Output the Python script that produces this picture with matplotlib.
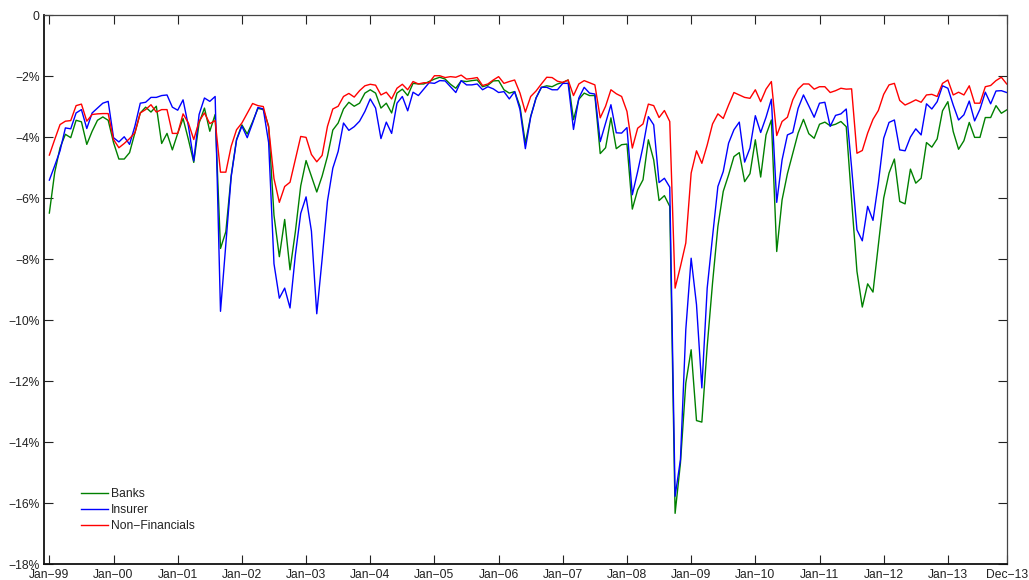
import matplotlib
matplotlib.use("Agg")
import matplotlib.pyplot as plt
import numpy as np

M = "\u2212"

banks = [
    -6.49, -5.16, -4.35, -3.91, -4.02, -3.45, -3.50, -4.24, -3.81, -3.45, -3.34, -3.45,
    -4.18, -4.72, -4.72, -4.51, -3.86, -3.21, -3.02, -3.18, -2.99, -4.21, -3.88, -4.42,
    -3.88, -3.39, -4.08, -4.83, -3.54, -3.05, -3.81, -3.26, -7.65, -7.10, -5.26, -4.08,
    -3.60, -3.90, -3.50, -3.06, -3.10, -3.64, -6.56, -7.92, -6.70, -8.35, -7.10, -5.60,
    -4.77, -5.28, -5.80, -5.28, -4.63, -3.77, -3.54, -3.08, -2.86, -2.99, -2.89, -2.56,
    -2.45, -2.56, -3.05, -2.89, -3.21, -2.56, -2.43, -2.64, -2.24, -2.26, -2.26, -2.18,
    -2.10, -2.04, -2.10, -2.27, -2.40, -2.16, -2.18, -2.15, -2.13, -2.35, -2.30, -2.16,
    -2.15, -2.45, -2.56, -2.51, -3.00, -4.20, -3.32, -2.72, -2.37, -2.32, -2.35, -2.26,
    -2.21, -2.13, -3.43, -2.76, -2.56, -2.64, -2.64, -4.54, -4.35, -3.37, -4.38, -4.25,
    -4.23, -6.36, -5.73, -5.40, -4.09, -4.75, -6.08, -5.92, -6.27, -16.33, -14.68, -12.06,
    -10.97, -13.29, -13.34, -10.86, -8.78, -6.93, -5.78, -5.24, -4.64, -4.51, -5.46, -5.20,
    -4.09, -5.31, -3.93, -3.44, -7.75, -6.06, -5.20, -4.53, -3.87, -3.42, -3.89, -4.04,
    -3.58, -3.51, -3.63, -3.58, -3.49, -3.66, -6.06, -8.40, -9.57, -8.81, -9.08, -7.53,
    -6.00, -5.18, -4.72, -6.11, -6.19, -5.05, -5.51, -5.35, -4.18, -4.33, -4.06, -3.14,
    -2.84, -3.82, -4.40, -4.12, -3.52, -4.01, -4.01, -3.36, -3.36, -2.97, -3.22, -3.11,
]

insurer = [
    -5.41, -4.94, -4.45, -3.70, -3.73, -3.21, -3.10, -3.72, -3.21, -3.05, -2.89, -2.83,
    -4.02, -4.16, -3.99, -4.24, -3.64, -2.89, -2.86, -2.70, -2.70, -2.64, -2.62, -3.02,
    -3.12, -2.78, -3.64, -4.78, -3.26, -2.72, -2.83, -2.67, -9.71, -7.50, -5.30, -4.10,
    -3.64, -4.02, -3.54, -3.03, -3.08, -4.18, -8.15, -9.28, -8.95, -9.60, -7.86, -6.50,
    -5.96, -7.08, -9.79, -8.00, -6.10, -5.02, -4.47, -3.54, -3.78, -3.66, -3.48, -3.16,
    -2.75, -3.05, -4.05, -3.51, -3.88, -2.89, -2.67, -3.14, -2.53, -2.64, -2.43, -2.22,
    -2.24, -2.15, -2.16, -2.35, -2.54, -2.15, -2.29, -2.29, -2.26, -2.45, -2.35, -2.42,
    -2.54, -2.51, -2.75, -2.51, -3.10, -4.38, -3.34, -2.72, -2.37, -2.37, -2.45, -2.45,
    -2.24, -2.24, -3.75, -2.72, -2.37, -2.56, -2.59, -4.15, -3.54, -2.94, -3.86, -3.87,
    -3.69, -5.89, -5.13, -4.31, -3.33, -3.60, -5.49, -5.35, -5.64, -15.77, -14.57, -10.31,
    -7.97, -9.49, -12.22, -8.95, -7.26, -5.62, -5.13, -4.20, -3.76, -3.51, -4.82, -4.36,
    -3.30, -3.85, -3.35, -2.76, -6.14, -4.75, -3.93, -3.85, -3.06, -2.62, -2.98, -3.35,
    -2.89, -2.86, -3.65, -3.29, -3.24, -3.08, -5.00, -7.04, -7.40, -6.27, -6.73, -5.51,
    -4.04, -3.52, -3.44, -4.42, -4.45, -4.00, -3.73, -3.93, -2.91, -3.08, -2.84, -2.32,
    -2.40, -2.95, -3.44, -3.27, -2.82, -3.47, -3.09, -2.53, -2.91, -2.49, -2.48, -2.54,
]

nonfin = [
    -4.59, -4.08, -3.59, -3.48, -3.46, -2.97, -2.92, -3.48, -3.26, -3.24, -3.23, -3.23,
    -4.08, -4.35, -4.21, -4.05, -3.86, -3.21, -3.10, -2.94, -3.18, -3.10, -3.10, -3.88,
    -3.88, -3.24, -3.54, -4.08, -3.48, -3.21, -3.56, -3.46, -5.15, -5.15, -4.30, -3.76,
    -3.54, -3.22, -2.90, -2.97, -3.00, -3.68, -5.36, -6.14, -5.62, -5.48, -4.73, -3.98,
    -4.01, -4.57, -4.81, -4.60, -3.65, -3.08, -2.99, -2.67, -2.57, -2.69, -2.48, -2.32,
    -2.27, -2.30, -2.62, -2.53, -2.75, -2.40, -2.27, -2.45, -2.18, -2.26, -2.22, -2.22,
    -1.99, -1.99, -2.05, -2.02, -2.04, -1.97, -2.10, -2.08, -2.05, -2.31, -2.26, -2.13,
    -2.02, -2.24, -2.18, -2.13, -2.56, -3.18, -2.67, -2.49, -2.26, -2.04, -2.05, -2.17,
    -2.21, -2.13, -2.64, -2.26, -2.15, -2.22, -2.29, -3.37, -2.99, -2.45, -2.58, -2.67,
    -3.16, -4.36, -3.71, -3.57, -2.92, -2.97, -3.36, -3.13, -3.49, -8.95, -8.24, -7.47,
    -5.18, -4.45, -4.86, -4.26, -3.57, -3.24, -3.39, -2.95, -2.54, -2.62, -2.70, -2.73,
    -2.45, -2.84, -2.43, -2.18, -3.95, -3.49, -3.35, -2.78, -2.43, -2.26, -2.26, -2.43,
    -2.35, -2.35, -2.54, -2.48, -2.40, -2.43, -2.42, -4.53, -4.44, -3.87, -3.42, -3.13,
    -2.60, -2.29, -2.24, -2.80, -2.95, -2.87, -2.78, -2.86, -2.62, -2.60, -2.67, -2.24,
    -2.13, -2.62, -2.53, -2.62, -2.32, -2.89, -2.89, -2.35, -2.31, -2.15, -2.04, -2.26,
]

series_names = ["Banks", "Insurer", "Non\u2212Financials"]
series_colors = ["#008000", "#0000ff", "#ff0000"]

x_tick_pos = [0, 12, 24, 36, 48, 60, 72, 84, 96, 108, 120, 132, 144, 156, 168, 179]
x_tick_labels = ["Jan" + M + "99", "Jan" + M + "00", "Jan" + M + "01", "Jan" + M + "02",
                 "Jan" + M + "03", "Jan" + M + "04", "Jan" + M + "05", "Jan" + M + "06",
                 "Jan" + M + "07", "Jan" + M + "08", "Jan" + M + "09", "Jan" + M + "10",
                 "Jan" + M + "11", "Jan" + M + "12", "Jan" + M + "13", "Dec" + M + "13"]
y_ticks = [0, -2, -4, -6, -8, -10, -12, -14, -16, -18]
y_tick_labels = ["0"] + [M + str(-v) + "%" for v in y_ticks[1:]]

plt.rcParams["font.family"] = ["Liberation Sans", "DejaVu Sans"]

W, H = 1029, 580
fig = plt.figure(figsize=(W / 100, H / 100), dpi=100)
ax = fig.add_axes([44 / W, 1 - 564.3 / H, (1006.7 - 44) / W, (564.3 - 15) / H])

months = np.arange(len(banks))
for vals, name, col in zip([banks, insurer, nonfin], series_names, series_colors):
    ax.plot(months, vals, color=col, lw=1.0, label=name)

ax.set_xlim(-1, 179)
ax.set_ylim(-18, 0)
ax.set_xticks(x_tick_pos)
ax.set_xticklabels(x_tick_labels)
ax.set_yticks(y_ticks)
ax.set_yticklabels(y_tick_labels)
ax.tick_params(direction="in", length=6.5, width=0.8, top=True, right=True,
               labelsize=8.7, colors="#222222")
ax.tick_params(axis="x", pad=3.5)
ax.tick_params(axis="y", pad=3)
for s in ["left", "bottom"]:
    ax.spines[s].set_linewidth(1.3)
    ax.spines[s].set_color("#111111")
for s in ["top", "right"]:
    ax.spines[s].set_linewidth(0.9)
    ax.spines[s].set_color("#444444")

leg = ax.legend(loc="upper left", bbox_to_anchor=(81 / W, 1 - 488 / H),
                bbox_transform=fig.transFigure, frameon=False, fontsize=8.7,
                handlelength=2.2, handletextpad=0.3, labelspacing=0.33,
                borderpad=0, borderaxespad=0)
for t in leg.get_texts():
    t.set_color("#222222")

fig.savefig("out.png", dpi=100)
